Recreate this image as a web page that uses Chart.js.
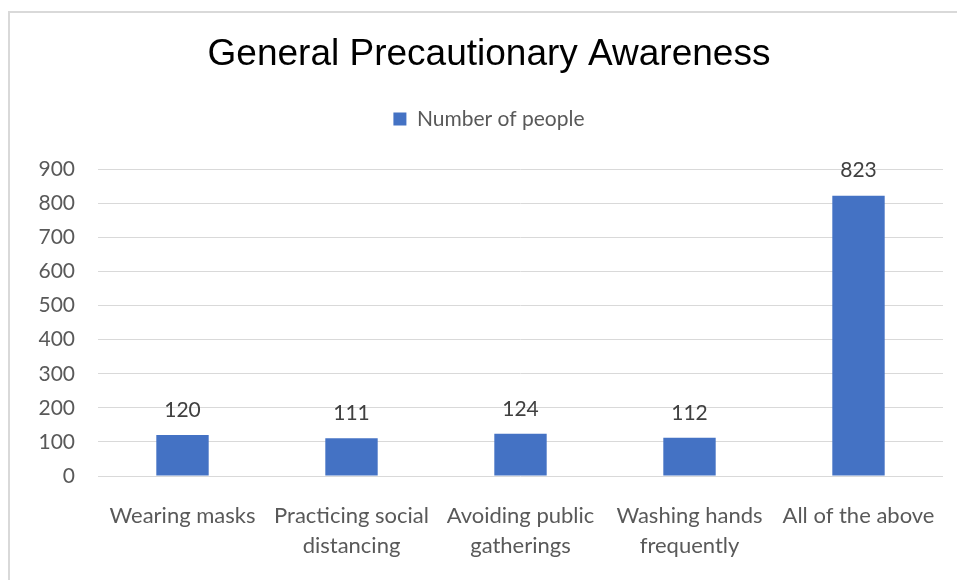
<!DOCTYPE html>
<html>
<head>
<meta charset="utf-8">
<script src="https://cdn.jsdelivr.net/npm/chart.js@4"></script>
<style>
  html, body { margin: 0; padding: 0; background: #ffffff; }
  #wrap { position: relative; width: 957px; height: 580px; overflow: hidden; }
  #frame { position: absolute; left: 8px; top: 11px; width: 960px; height: 580px;
           border-left: 2px solid #d9d9d9; border-top: 2px solid #d9d9d9; box-sizing: border-box; }
  canvas { position: absolute; left: 0; top: 0; }
</style>
</head>
<body>
<div id="wrap">
  <div id="frame"></div>
  <canvas id="c" width="957" height="580"></canvas>
</div>
<script>
const titleText = 'General Precautionary Awareness';
const seriesName = 'Number of people';
const categories = [
  ['Wearing masks'],
  ['Practicing social', 'distancing'],
  ['Avoiding public', 'gatherings'],
  ['Washing hands', 'frequently'],
  ['All of the above']
];
const values = [120, 111, 124, 112, 823];
const yMin = 0;
const yMax = 900;
const yStep = 100;

const labelFont = 'Lato';
const grey = '#595959';

const valueLabels = {
  id: 'valueLabels',
  afterDatasetsDraw(chart) {
    const ctx = chart.ctx;
    const meta = chart.getDatasetMeta(0);
    ctx.save();
    ctx.font = '21px ' + labelFont;
    ctx.fillStyle = '#404040';
    ctx.textAlign = 'center';
    ctx.textBaseline = 'middle';
    meta.data.forEach((bar, i) => {
      ctx.fillText(String(chart.data.datasets[0].data[i]), bar.x, bar.y - 25);
    });
    ctx.restore();
  }
};

new Chart(document.getElementById('c'), {
  type: 'bar',
  data: {
    labels: categories,
    datasets: [{
      label: seriesName,
      data: values,
      backgroundColor: '#4472C4',
      borderWidth: 0,
      barPercentage: 0.31,
      categoryPercentage: 1.0
    }]
  },
  options: {
    responsive: false,
    animation: false,
    layout: { padding: { left: 35, right: 14, top: 0, bottom: 0 } },
    plugins: {
      title: {
        display: true,
        text: titleText,
        color: '#000000',
        font: { family: 'Liberation Sans', size: 37, weight: 'normal', lineHeight: 1.2 },
        padding: { top: 33, bottom: 21 }
      },
      subtitle: {
        display: true,
        text: ' ',
        position: 'top',
        weight: 500,
        font: { size: 1, lineHeight: 1 },
        padding: { top: 29, bottom: 0 }
      },
      legend: {
        display: true,
        position: 'top',
        labels: {
          color: grey,
          font: { family: labelFont, size: 21 },
          boxWidth: 13,
          boxHeight: 13,
          padding: 10
        }
      },
      tooltip: { enabled: false }
    },
    scales: {
      x: {
        grid: { display: true, drawOnChartArea: false, drawTicks: true, tickLength: 25, color: 'rgba(0,0,0,0)' },
        border: { display: false },
        ticks: {
          color: grey,
          font: { family: labelFont, size: 22, lineHeight: 1.36 },
          padding: 0,
          maxRotation: 0,
          autoSkip: false
        },
        afterFit(scale) { scale.height = 104; }
      },
      y: {
        min: yMin,
        max: yMax,
        grid: { color: '#d9d9d9', lineWidth: 1, drawTicks: false },
        border: { display: false },
        ticks: {
          stepSize: yStep,
          color: grey,
          font: { family: labelFont, size: 21 },
          padding: 23
        },
        afterFit(scale) { scale.width = 63; }
      }
    }
  },
  plugins: [valueLabels]
});
</script>
</body>
</html>
